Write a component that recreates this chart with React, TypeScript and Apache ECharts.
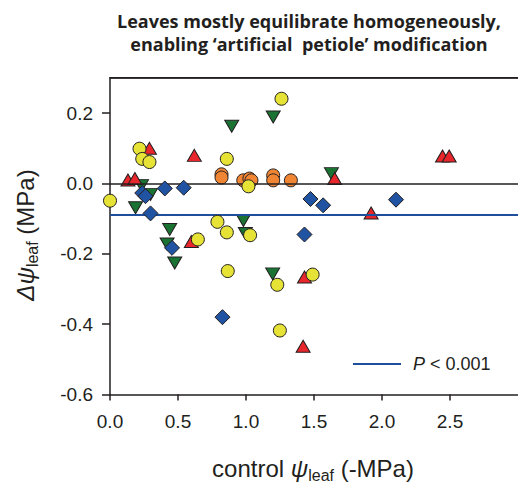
import React, { useEffect, useRef } from "react";
import * as echarts from "echarts";

const yellowPoints: [number, number][] = [
  [0.0, -0.049], [0.217, 0.099], [0.237, 0.07], [0.29, 0.061], [0.859, 0.07],
  [1.018, -0.008], [1.261, 0.241], [0.79, -0.109], [0.859, -0.139], [1.03, -0.147],
  [0.646, -0.159], [0.866, -0.249], [1.23, -0.288], [1.249, -0.418], [1.49, -0.259],
];
const orangePoints: [number, number][] = [
  [0.82, 0.026], [0.82, 0.017], [0.98, 0.009], [1.025, 0.014], [1.04, 0.009],
  [1.2, 0.023], [1.2, 0.009], [1.33, 0.009],
];
const redPoints: [number, number][] = [
  [0.29, 0.1], [0.62, 0.08], [0.132, 0.01], [0.183, 0.014], [1.652, 0.014],
  [1.92, -0.084], [2.445, 0.078], [2.494, 0.078], [1.42, -0.463], [1.43, -0.266],
  [0.598, -0.165],
];
const greenPoints: [number, number][] = [
  [0.895, 0.163], [1.2, 0.189], [0.232, -0.006], [0.298, -0.031], [0.188, -0.069],
  [0.439, -0.131], [0.981, -0.105], [0.42, -0.172], [0.476, -0.226], [1.196, -0.257],
  [0.995, -0.142], [1.628, 0.028],
];
const bluePoints: [number, number][] = [
  [0.403, -0.014], [0.542, -0.012], [0.237, -0.027], [0.261, -0.036], [0.298, -0.085],
  [0.456, -0.183], [0.827, -0.38], [1.474, -0.044], [1.567, -0.062], [2.103, -0.046],
  [1.43, -0.145],
];
const meanDelta = -0.093;
const xTicks = [0, 0.5, 1.0, 1.5, 2.0, 2.5];
const yTicks = [-0.6, -0.4, -0.2, 0.0, 0.2];
const titleLines = ["Leaves mostly equilibrate homogeneously,", "enabling \u2018artificial  petiole\u2019 modification"];

const INK = "#231f20";
const FONT = "'Liberation Sans', Arial, sans-serif";

export default function App() {
  const ref = useRef<HTMLDivElement>(null);
  useEffect(() => {
    if (!ref.current) return;
    const chart = echarts.init(ref.current, null, { renderer: "svg" });
    const pointStyle = (color: string) => ({ color, borderColor: INK, borderWidth: 1, opacity: 1 });
    const axisTitleRich = {
      d: { fontSize: 24, fontStyle: "italic", fontFamily: FONT, fill: INK, lineHeight: 30, verticalAlign: "middle" },
      s: { fontSize: 16, fontFamily: FONT, fill: INK, lineHeight: 14, verticalAlign: "bottom" },
      n: { fontSize: 24, fontFamily: FONT, fill: INK, lineHeight: 30, verticalAlign: "middle" },
    };
    chart.setOption({
      animation: false,
      grid: { left: 110, top: 78, right: -3, bottom: 92.5 },
      xAxis: {
        type: "value", min: 0, max: 3, interval: 0.5,
        axisLine: { show: true, onZero: false, lineStyle: { color: INK, width: 1.5 } },
        axisTick: { show: true, length: 6, lineStyle: { color: INK, width: 1.5 }, customValues: xTicks },
        axisLabel: { customValues: xTicks, formatter: (v: number) => v.toFixed(1), color: INK, fontSize: 19, fontFamily: FONT, margin: 17 },
        splitLine: { show: false },
      },
      yAxis: {
        type: "value", min: -0.6, max: 0.3, interval: 0.2,
        axisLine: { show: true, onZero: false, lineStyle: { color: INK, width: 1.5 } },
        axisTick: { show: true, length: 8, lineStyle: { color: INK, width: 1.5 }, customValues: yTicks },
        axisLabel: { customValues: yTicks, formatter: (v: number) => v.toFixed(1), color: INK, fontSize: 19, fontFamily: FONT, margin: 17 },
        splitLine: { show: false },
      },
      series: [
        {
          type: "line", data: [], z: 1, silent: true,
          markLine: {
            silent: true, symbol: "none", label: { show: false }, animation: false,
            data: [
              { yAxis: 0.3, lineStyle: { color: INK, width: 1.5, type: "solid" } },
              { yAxis: 0, lineStyle: { color: INK, width: 1.5, type: "solid" } },
              { yAxis: meanDelta, lineStyle: { color: "#1f4e9c", width: 2, type: "solid" } },
            ],
          },
        },
        { type: "scatter", z: 2, data: greenPoints, symbol: "triangle", symbolRotate: 180, symbolSize: [14, 12], itemStyle: pointStyle("#1b7333") },
        { type: "scatter", z: 3, data: redPoints, symbol: "triangle", symbolSize: [14, 12], itemStyle: pointStyle("#e8262b") },
        { type: "scatter", z: 4, data: orangePoints, symbol: "circle", symbolSize: 13, itemStyle: pointStyle("#f08634") },
        { type: "scatter", z: 5, data: bluePoints, symbol: "diamond", symbolSize: [15, 15], itemStyle: pointStyle("#2153a3") },
        { type: "scatter", z: 6, data: yellowPoints, symbol: "circle", symbolSize: 13, itemStyle: pointStyle("#e6e336") },
      ],
      graphic: [
        {
          type: "rect", shape: { x: 109.25, y: 77, width: 409, height: 1.6 },
          style: { fill: INK }, z: 10,
        },
        {
          type: "text", x: 309, y: 9,
          style: {
            text: titleLines.join("\n"), fill: INK, font: "bold 18px 'Open Sans', sans-serif",
            textAlign: "center", textVerticalAlign: "top", lineHeight: 23,
          },
        },
        {
          type: "text", x: 25, y: 235, rotation: Math.PI / 2,
          style: {
            text: "{d|\u0394\u03c8}{s|leaf}{n| (MPa)}", textAlign: "center", textVerticalAlign: "middle", fill: INK,
            rich: axisTitleRich,
          },
        },
        {
          type: "text", x: 313, y: 468,
          style: {
            text: "{n|control }{d|\u03c8}{s|leaf}{n| (-MPa)}", textAlign: "center", textVerticalAlign: "middle", fill: INK,
            rich: axisTitleRich,
          },
        },
        {
          type: "line", shape: { x1: 353, y1: 364, x2: 401, y2: 364 },
          style: { stroke: "#1f4e9c", lineWidth: 2 },
        },
        {
          type: "text", x: 413, y: 364,
          style: {
            text: "{p|P}{n| < 0.001}", textAlign: "left", textVerticalAlign: "middle", fill: INK,
            rich: {
              p: { fontSize: 18, fontStyle: "italic", fontFamily: FONT, fill: INK },
              n: { fontSize: 18, fontFamily: FONT, fill: INK },
            },
          },
        },
      ],
    });
    return () => chart.dispose();
  }, []);
  return <div ref={ref} style={{ width: 518, height: 487, position: "absolute", left: 0, top: 0 }} />;
}
